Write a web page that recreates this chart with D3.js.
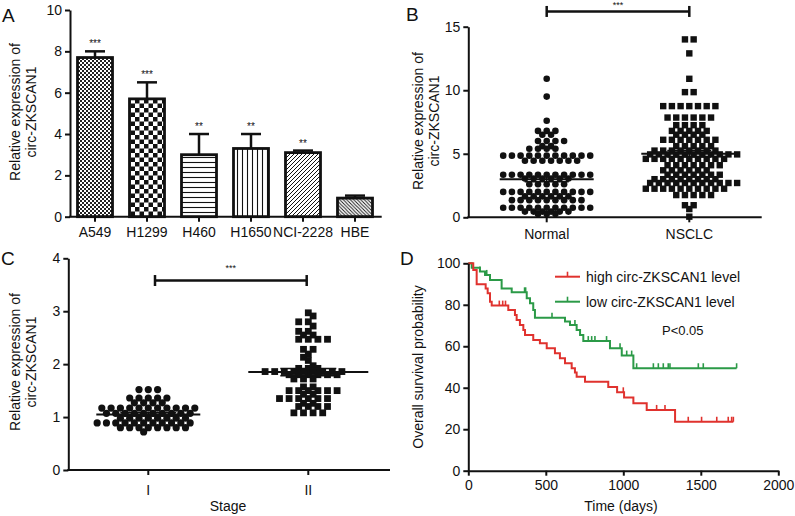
<!DOCTYPE html>
<html><head><meta charset="utf-8">
<script src="https://cdn.jsdelivr.net/npm/d3@7"></script>
<style>
body{margin:0;background:#fff;}
text{font-family:"Liberation Sans",Arial,Helvetica,sans-serif;fill:#111;}
</style>
</head><body>
<script>
// ---------------- DATA ----------------
const aCategories = ["A549","H1299","H460","H1650","NCI-2228","HBE"];
const aValues = [7.7,5.7,3.0,3.3,3.1,0.9];
const aErrors = [0.3,0.8,1.0,0.7,0.1,0.12];
const aStars = ["***","***","**","**","**",""];
const aTicks = [0,2,4,6,8,10];

const bCategories = ["Normal","NSCLC"];
const bNormal = [10.9,9.5,7.6,
 6.8,6.8,6.8,
 6.5,6.5,
 6.0,6.0,6.0,6.0,
 5.6,5.6,
 5.4,5.4,5.4,5.4,
 4.85,4.85,4.85,4.85,4.85,4.85,4.85,4.85,4.85,4.85,4.85,
 4.45,4.45,4.45,4.45,4.45,4.45,4.45,
 3.35,3.35,3.35,3.35,3.35,3.35,3.35,3.35,3.35,3.35,3.35,
 3.05,3.05,3.05,3.05,3.05,3.05,
 2.6,2.6,2.6,2.6,2.6,
 2.0,2.0,2.0,2.0,2.0,2.0,2.0,2.0,2.0,2.0,2.0,
 1.65,1.65,1.65,1.65,1.65,1.65,
 1.35,1.35,1.35,1.35,1.35,1.35,1.35,1.35,1.35,
 0.75,0.75,0.75,0.75,0.75,0.75,0.75,0.75,0.75,0.75,0.75,
 0.45,0.45,0.45,0.45,0.45,0.45,
 0.25,0.25,0.25];
const bNSCLC = [14.0,14.0,12.9,10.9,9.85,9.85,
 8.75,8.75,8.75,8.75,8.75,8.75,8.75,
 7.85,7.85,7.85,7.85,7.85,7.85,
 7.25,7.25,7.25,7.25,
 6.8,6.8,6.8,6.8,6.8,
 6.5,6.5,6.5,6.5,
 6.1,6.1,6.1,6.1,6.1,6.1,6.1,
 5.6,5.6,5.6,5.6,5.6,
 5.25,5.25,5.25,5.25,5.25,5.25,5.25,5.25,
 4.95,4.95,4.95,4.95,4.95,4.95,4.95,4.95,4.95,4.95,4.95,
 4.6,4.6,4.6,4.6,4.6,4.6,4.6,4.6,4.6,4.6,
 4.1,4.1,4.1,4.1,4.1,4.1,4.1,
 3.7,3.7,3.7,3.7,3.7,3.7,
 3.35,3.35,3.35,3.35,3.35,3.35,3.35,
 3.0,3.0,3.0,3.0,3.0,3.0,3.0,3.0,
 2.7,2.7,2.7,2.7,2.7,2.7,2.7,2.7,2.7,2.7,2.7,
 2.25,2.25,2.25,2.25,2.25,2.25,2.25,2.25,2.25,2.25,
 1.75,1.75,1.75,1.75,1.75,
 0.95,0.95,0.65,0.05];
const bMeans = [3.0,5.0];
const bSems = [0.2,0.25];
const bTicks = [0,5,10,15];
const bSigLevel = 16.2;
const bSigLabel = "***";

const cCategories = ["I","II"];
const cStageI = [1.52,1.52,1.52,
 1.36,1.36,1.36,1.36,1.36,
 1.27,1.27,1.27,1.27,
 1.17,1.17,1.17,1.17,1.17,1.17,1.17,1.17,1.17,1.17,1.17,
 1.07,1.07,1.07,1.07,1.07,1.07,1.07,1.07,1.07,1.07,
 0.98,0.98,0.98,0.98,0.98,0.98,0.98,0.98,
 0.89,0.89,0.89,0.89,0.89,0.89,0.89,0.89,0.89,0.89,0.89,
 0.8,0.8,0.8,0.8,0.8,0.8,0.8,0.8,
 0.72];
const cStageII = [2.97,2.91,2.8,2.8,2.72,2.62,2.62,2.55,2.55,
 2.47,2.47,2.47,2.47,
 2.28,2.28,2.19,2.13,2.07,1.97,
 1.92,1.92,1.92,
 1.86,1.86,1.86,1.86,1.86,1.86,1.86,1.86,1.86,
 1.8,1.8,1.8,1.8,1.8,1.8,
 1.72,1.72,1.72,
 1.57,1.57,
 1.5,1.5,1.5,1.5,1.5,1.5,
 1.43,1.43,
 1.35,1.35,1.35,1.35,1.35,1.35,
 1.26,1.26,
 1.2,1.2,1.2,1.2,
 1.08,1.08,1.08,1.08];
const cMeans = [1.05,1.85];
const cSems = [0.03,0.07];
const cTicks = [0,1,2,3,4];
const cSigLevel = 3.58;
const cSigLabel = "***";

const dSeriesNames = ["high circ-ZKSCAN1 level","low circ-ZKSCAN1 level"];
const dHighTimes = [0,32,54,112,125,140,151,258,301,312,333,355,366,419,462,506,559,591,624,667,688,699,753,903,960,1005,1065,1151,1334,1710];
const dHighSurv  = [100,96.8,89.9,87.9,85.5,81.5,79.6,77.5,75.1,72.7,70.3,67.8,65.4,63.0,61.4,59.0,56.6,54.2,51.8,49.4,47.4,45.3,42.9,40.3,37.8,35.3,32.5,29.3,23.6,23.6];
const dHighCensor = [200,222,240,1000,1215,1269,1419,1505,1603,1677,1699,1710];
const dLowTimes = [0,22,75,108,140,215,280,377,398,419,430,624,656,699,721,742,914,990,1065,1731];
const dLowSurv  = [100,97.9,96,94.4,92,87.9,86,83.1,80.7,77.5,73.8,71.9,70.3,67.8,65.4,62.5,59.0,55.5,49.4,49.4];
const dLowCensor = [75,119,363,370,540,688,774,796,817,892,979,1022,1054,1086,1194,1226,1258,1290,1301,1484,1516,1731];
const dXTicks = [0,500,1000,1500,2000];
const dYTicks = [0,20,40,60,80,100];
const dPText = "P<0.05";

// ---------------- DRAW ----------------
const W = 795, H = 516;
const svg = d3.select("body").append("svg").attr("width", W).attr("height", H);
const FS = 14;
const RED = "#e0322e", GREEN = "#2b9a47";
const fmt = d3.format("d");

const defs = svg.append("defs");
function pat(id, size){ return defs.append("pattern").attr("id",id).attr("patternUnits","userSpaceOnUse").attr("width",size).attr("height",size); }
{ const p = pat("p0",4); p.append("rect").attr("width",4).attr("height",4).attr("fill","#fff");
  p.append("rect").attr("width",2).attr("height",2).attr("fill","#222");
  p.append("rect").attr("x",2).attr("y",2).attr("width",2).attr("height",2).attr("fill","#222"); }
{ const p = pat("p1",9); p.append("rect").attr("width",9).attr("height",9).attr("fill","#fff");
  p.append("rect").attr("width",4.5).attr("height",4.5).attr("fill","#111");
  p.append("rect").attr("x",4.5).attr("y",4.5).attr("width",4.5).attr("height",4.5).attr("fill","#111"); }
{ const p = pat("p2",5); p.append("rect").attr("width",5).attr("height",5).attr("fill","#fff");
  p.append("line").attr("x1",0).attr("x2",5).attr("y1",2.5).attr("y2",2.5).attr("stroke","#111").attr("stroke-width",1.1); }
{ const p = pat("p3",5); p.append("rect").attr("width",5).attr("height",5).attr("fill","#fff");
  p.append("line").attr("y1",0).attr("y2",5).attr("x1",2.5).attr("x2",2.5).attr("stroke","#111").attr("stroke-width",1.1); }
{ const p = pat("p4",4); p.append("rect").attr("width",4).attr("height",4).attr("fill","#fff");
  p.append("path").attr("d","M-1,1 L1,-1 M0,4 L4,0 M3,5 L5,3").attr("stroke","#111").attr("stroke-width",1); }
{ const p = pat("p5",3.5); p.append("rect").attr("width",3.5).attr("height",3.5).attr("fill","#fff");
  p.append("path").attr("d","M-1,2.5 L1,4.5 M0,0 L3.5,3.5 M2.5,-1 L4.5,1").attr("stroke","#111").attr("stroke-width",0.9); }

function styleAxis(ax){
  ax.select(".domain").attr("stroke","#111").attr("stroke-width",2);
  ax.selectAll(".tick line").attr("stroke","#111").attr("stroke-width",2);
  ax.selectAll(".tick text").style("font-size","14px").attr("fill","#111").style("font-family","'Liberation Sans',Arial,sans-serif");
}
function yAxis(g, scale, ticks, x){
  const ax = g.append("g").attr("transform",`translate(${x},0)`)
    .call(d3.axisLeft(scale).tickValues(ticks).tickFormat(fmt).tickSize(5).tickSizeOuter(0).tickPadding(3));
  styleAxis(ax);
  return ax;
}
function xLine(g, x0, x1, y){
  g.append("line").attr("x1",x0-1).attr("x2",x1).attr("y1",y).attr("y2",y).attr("stroke","#111").attr("stroke-width",2);
}
function yTitle(g, lines, x, cy){
  lines.forEach((l,i)=>{
    g.append("text").attr("transform",`translate(${x + i*16},${cy}) rotate(-90)`)
      .attr("text-anchor","middle").style("font-size",FS+"px").text(l);
  });
}
function letter(t,x,y){ svg.append("text").attr("x",x).attr("y",y).style("font-size","19px").text(t); }
function stars(g, t, x, y, size){
  g.append("text").attr("transform",`translate(${x},${y}) rotate(0.02)`).attr("text-anchor","middle")
    .style("font-size",size+"px").attr("fill","#222").text(t);
}

// column-scatter layout: equal values share a row centred on the category;
// a row that overlaps the previous one with the same phase is staggered by half a step
function rowLayout(vals, y, cx, s, h){
  const rows = Array.from(d3.group(vals, v=>v), ([v,arr])=>({v, n:arr.length})).sort((a,b)=>b.v-a.v);
  const out = [];
  let prev = null, flip = 1;
  rows.forEach(r=>{
    r.y = y(r.v);
    const phase0 = r.n % 2 === 0 ? 0.5 : 0;
    r.shift = 0; r.phase = phase0;
    if (prev && Math.abs(r.y - prev.y) < h && phase0 === prev.phase){
      r.shift = flip * s/2; flip = -flip; r.phase = (phase0 + 0.5) % 1;
    }
    for (let i=0;i<r.n;i++) out.push({v:r.v, x: cx + r.shift + (i-(r.n-1)/2)*s, y: r.y});
    prev = r;
  });
  return out;
}

// ===== Panel A =====
{
  const g = svg.append("g");
  const x0 = 70, x1 = 381.7, yT = 10, yB = 216.7;
  const y = d3.scaleLinear().domain([0,10]).range([yB,yT]);
  const x = d3.scalePoint().domain(aCategories).range([95,355]);
  const bw = 35;
  const ids = ["p0","p1","p2","p3","p4","p5"];
  aCategories.forEach((c,i)=>{
    const cx = x(c), top = y(aValues[i]+aErrors[i]);
    g.append("line").attr("x1",cx).attr("x2",cx).attr("y1",y(aValues[i])).attr("y2",top).attr("stroke","#111").attr("stroke-width",2.5);
    g.append("line").attr("x1",cx-10).attr("x2",cx+10).attr("y1",top).attr("y2",top).attr("stroke","#111").attr("stroke-width",2.5);
    if (aStars[i]) stars(g, aStars[i], cx, top-4, 10);
  });
  g.selectAll("rect.bar").data(aCategories).enter().append("rect")
    .attr("x",c=>x(c)-bw/2).attr("width",bw)
    .attr("y",(c,i)=>y(aValues[i])).attr("height",(c,i)=>yB - y(aValues[i]))
    .attr("fill",(c,i)=>`url(#${ids[i]})`).attr("stroke","#111").attr("stroke-width",2.8);
  yAxis(g, y, aTicks, x0);
  xLine(g, x0, x1, yB);
  aCategories.forEach(c=>{
    g.append("line").attr("x1",x(c)).attr("x2",x(c)).attr("y1",yB).attr("y2",yB+5).attr("stroke","#111").attr("stroke-width",2);
    g.append("text").attr("x",x(c)).attr("y",237).attr("text-anchor","middle").style("font-size",FS+"px").text(c);
  });
  yTitle(g, ["Relative expression of","circ-ZKSCAN1"], 20, 112);
  letter("A",2,22);
}

function scatterPanel(opts){
  const g = svg.append("g");
  const y = d3.scaleLinear().domain(opts.domain).range([opts.yB,opts.yT]);
  const x = d3.scalePoint().domain(opts.cats).range(opts.xr);
  const p0 = rowLayout(opts.g0, y, x(opts.cats[0]), opts.s0, opts.r*2);
  g.selectAll("circle.pt").data(p0).enter().append("circle").attr("cx",p=>p.x).attr("cy",p=>p.y).attr("r",opts.r).attr("fill","#111");
  const p1 = rowLayout(opts.g1, y, x(opts.cats[1]), opts.s1, opts.sq);
  g.selectAll("rect.pt").data(p1).enter().append("rect").attr("x",p=>p.x-opts.sq/2).attr("y",p=>p.y-opts.sq/2).attr("width",opts.sq).attr("height",opts.sq).attr("fill","#111");
  opts.cats.forEach((c,i)=>{
    const cx = x(c);
    const m = y(opts.means[i]), hi = y(opts.means[i]+opts.sems[i]), lo = y(opts.means[i]-opts.sems[i]);
    g.append("line").attr("x1",cx-opts.mw[i]).attr("x2",cx+opts.mw[i]).attr("y1",m).attr("y2",m).attr("stroke","#111").attr("stroke-width",2);
    g.append("line").attr("x1",cx).attr("x2",cx).attr("y1",hi).attr("y2",lo).attr("stroke","#111").attr("stroke-width",1.5);
    [hi,lo].forEach(v=>g.append("line").attr("x1",cx-opts.sw).attr("x2",cx+opts.sw).attr("y1",v).attr("y2",v).attr("stroke","#111").attr("stroke-width",1.5));
  });
  const sy = y(opts.sig), xa = opts.sigX[0], xb = opts.sigX[1];
  g.append("line").attr("x1",xa).attr("x2",xb).attr("y1",sy).attr("y2",sy).attr("stroke","#111").attr("stroke-width",2.5);
  [xa,xb].forEach(v=>g.append("line").attr("x1",v).attr("x2",v).attr("y1",sy-5.5).attr("y2",sy+5.5).attr("stroke","#111").attr("stroke-width",2.5));
  stars(g, opts.sigLabel, (xa+xb)/2, sy-opts.starOff, 9);
  yAxis(g, y, opts.ticks, opts.x0);
  xLine(g, opts.x0, opts.x1, opts.yB);
  opts.cats.forEach(c=>{
    g.append("line").attr("x1",x(c)).attr("x2",x(c)).attr("y1",opts.yB).attr("y2",opts.yB+5).attr("stroke","#111").attr("stroke-width",2);
    g.append("text").attr("x",x(c)).attr("y",opts.labY).attr("text-anchor","middle").style("font-size",FS+"px").text(c);
  });
  return g;
}

// ===== Panel B =====
{
  scatterPanel({cats:bCategories, g0:bNormal, g1:bNSCLC, domain:[0,15], yT:26.7, yB:217.3,
    xr:[546.7,689.3], x0:468.3, x1:761.7, s0:8.7, s1:8.7, r:3.3, sq:6.4,
    means:bMeans, sems:bSems, mw:[47,48], sw:22, sig:bSigLevel, sigX:[546.7,689.3], sigLabel:bSigLabel, starOff:3,
    ticks:bTicks, labY:239});
  const g = svg.append("g");
  yTitle(g, ["Relative expression of","circ-ZKSCAN1"], 423, 121);
  letter("B",406,21);
}

// ===== Panel C =====
{
  const g = scatterPanel({cats:cCategories, g0:cStageI, g1:cStageII, domain:[0,4], yT:258.3, yB:470,
    xr:[148.3,308.3], x0:68.3, x1:390, s0:9.3, s1:9.6, r:3.6, sq:6.8,
    means:cMeans, sems:cSems, mw:[52,60], sw:28, sig:cSigLevel, sigX:[155,306.7], sigLabel:cSigLabel, starOff:10,
    ticks:cTicks, labY:495});
  g.append("text").attr("x",228).attr("y",511).attr("text-anchor","middle").style("font-size",FS+"px").text("Stage");
  yTitle(g, ["Relative expression of","circ-ZKSCAN1"], 20, 362);
  letter("C",1,265);
}

// ===== Panel D =====
{
  const g = svg.append("g");
  const x0 = 468.3, yB = 470.7;
  const x = d3.scaleLinear().domain([0,2000]).range([468.3,778.3]);
  const y = d3.scaleLinear().domain([0,100]).range([470.7,263.3]);
  const line = d3.line().x(d=>x(d[0])).y(d=>y(d[1])).curve(d3.curveStepAfter);
  function km(times, surv, cens, color){
    const pts = times.map((t,i)=>[t,surv[i]]);
    g.append("path").attr("d",line(pts)).attr("fill","none").attr("stroke",color).attr("stroke-width",2);
    cens.forEach(t=>{
      let s = surv[0];
      for (let i=0;i<times.length;i++){ if (times[i] <= t) s = surv[i]; }
      g.append("line").attr("x1",x(t)).attr("x2",x(t)).attr("y1",y(s)).attr("y2",y(s)-5).attr("stroke",color).attr("stroke-width",1.6);
    });
  }
  km(dLowTimes, dLowSurv, dLowCensor, GREEN);
  km(dHighTimes, dHighSurv, dHighCensor, RED);
  yAxis(g, y, dYTicks, x0);
  const ax = g.append("g").attr("transform",`translate(0,${yB})`)
    .call(d3.axisBottom(x).tickValues(dXTicks).tickFormat(fmt).tickSize(5).tickSizeOuter(0).tickPadding(4));
  styleAxis(ax);
  g.append("text").attr("x",621).attr("y",511).attr("text-anchor","middle").style("font-size",FS+"px").text("Time (days)");
  yTitle(g, ["Overall survival probability"], 423, 367);
  [[RED,276.7],[GREEN,301.7]].forEach(([col,ly],i)=>{
    g.append("line").attr("x1",555).attr("x2",580).attr("y1",ly).attr("y2",ly).attr("stroke",col).attr("stroke-width",2);
    g.append("line").attr("x1",567.5).attr("x2",567.5).attr("y1",ly).attr("y2",ly-5).attr("stroke",col).attr("stroke-width",1.6);
    g.append("text").attr("x",586).attr("y",ly+5).style("font-size",FS+"px").text(dSeriesNames[i]);
  });
  g.append("text").attr("x",662).attr("y",335).style("font-size","13px").text(dPText);
  letter("D",400,265);
}
</script>
</body></html>
